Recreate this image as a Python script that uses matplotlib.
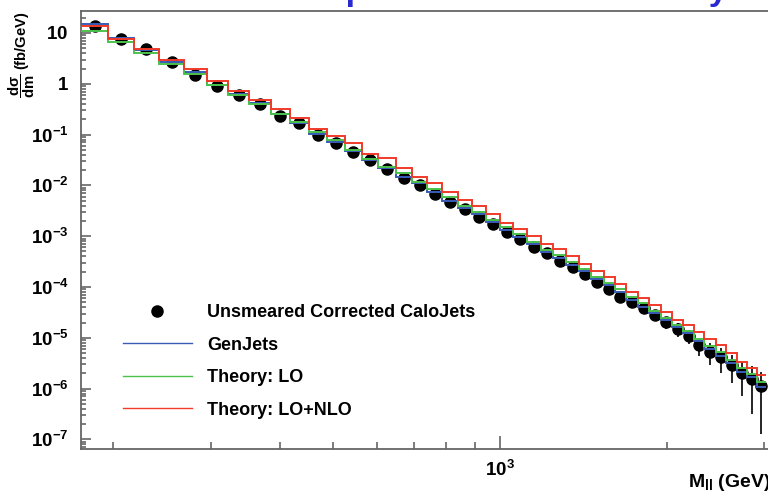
import numpy as np
import matplotlib
matplotlib.use("Agg")
import matplotlib.pyplot as plt
from matplotlib.lines import Line2D
from matplotlib.ticker import FixedLocator, FixedFormatter, NullFormatter, LogLocator

plt.rcParams["font.family"] = ["Liberation Sans", "DejaVu Sans"]
plt.rcParams["mathtext.fontset"] = "custom"
plt.rcParams["mathtext.rm"] = "Liberation Sans:bold"
plt.rcParams["mathtext.bf"] = "Liberation Sans:bold"
plt.rcParams["mathtext.it"] = "Liberation Sans:bold"

# bin edges of the mass histogram (GeV)
edges = [175, 196, 218, 242, 269, 295, 323, 352, 385, 417, 451, 486, 525, 563,
         603, 649, 693, 739, 787, 840, 889, 942, 1000, 1057, 1120, 1184, 1246,
         1317, 1388, 1460, 1539, 1611, 1689, 1775, 1861, 1950, 2044, 2143, 2243,
         2341, 2453, 2564, 2677, 2790, 2908, 3028]

# Unsmeared Corrected CaloJets (fb/GeV)
calojets = [13.9, 7.72, 4.78, 2.65, 1.49, 0.905, 0.610, 0.400, 0.2355, 0.1669,
            0.0982, 0.0693, 0.0461, 0.0312, 0.0210, 0.0138, 0.01005, 6.77e-3,
            4.78e-3, 3.38e-3, 2.42e-3, 1.715e-3, 1.226e-3, 8.69e-4, 6.21e-4,
            4.61e-4, 3.29e-4, 2.51e-4, 1.78e-4, 1.226e-4, 9.01e-5, 6.44e-5,
            5.07e-5, 3.81e-5, 2.81e-5, 2.07e-5, 1.49e-5, 1.10e-5, 7.22e-6,
            5.33e-6, 4.13e-6, 2.91e-6, 2.06e-6, 1.52e-6, 1.12e-6]
calojets_err = [0.14, 0.08, 0.05, 0.03, 0.02, 0.012, 0.009, 0.006, 0.004, 0.003,
                0.002, 0.0015, 0.0011, 8e-4, 6e-4, 4.5e-4, 3.5e-4, 2.6e-4, 2e-4,
                1.5e-4, 1.2e-4, 9e-5, 7e-5, 5.5e-5, 4.2e-5, 3.4e-5, 2.7e-5,
                2.2e-5, 1.7e-5, 1.3e-5, 1.1e-5, 9e-6, 8e-6, 7e-6, 6e-6, 5.5e-6,
                4.5e-6, 3.4e-6, 2.8e-6, 2.4e-6, 2.1e-6, 1.6e-6, 1.35e-6,
                1.21e-6, 9.9e-7]

genjets = [15.0, 8.08, 4.57, 2.72, 1.67, 0.926, 0.630, 0.4095, 0.2544, 0.1692,
           0.1027, 0.0715, 0.04755, 0.0316, 0.0220, 0.01483, 0.0110, 7.52e-3,
           4.93e-3, 3.54e-3, 2.70e-3, 1.93e-3, 1.324e-3, 9.78e-4, 7.02e-4,
           4.95e-4, 3.67e-4, 2.71e-4, 2.065e-4, 1.418e-4, 1.095e-4, 8.08e-5,
           5.55e-5, 3.98e-5, 3.04e-5, 2.24e-5, 1.61e-5, 1.226e-5, 8.77e-6,
           6.02e-6, 4.38e-6, 3.15e-6, 2.15e-6, 1.67e-6, 1.09e-6]

theory_lo = [10.8, 6.74, 4.10, 2.45, 1.54, 0.947, 0.602, 0.400, 0.2487, 0.1794,
             0.1125, 0.0783, 0.0498, 0.0326, 0.02334, 0.01730, 0.01182, 8.38e-3,
             5.99e-3, 3.93e-3, 2.955e-3, 2.084e-3, 1.497e-3, 1.09e-3, 7.79e-4,
             5.35e-4, 4.26e-4, 3.15e-4, 2.23e-4, 1.595e-4, 1.215e-4, 9.01e-5,
             6.27e-5, 4.78e-5, 3.37e-5, 2.42e-5, 1.786e-5, 1.36e-5, 9.47e-6,
             6.90e-6, 5.33e-6, 3.66e-6, 2.51e-6, 1.94e-6, 1.32e-6]

theory_lo_nlo = [13.9, 7.72, 4.91, 2.94, 1.93, 1.16, 0.731, 0.480, 0.315, 0.215,
                 0.127, 0.0926, 0.0674, 0.0409, 0.0346, 0.0217, 0.01483, 0.0110,
                 7.52e-3, 5.09e-3, 3.88e-3, 2.70e-3, 1.795e-3, 1.386e-3,
                 1.009e-3, 7.02e-4, 5.52e-4, 4.13e-4, 2.84e-4, 2.065e-4,
                 1.552e-4, 1.13e-4, 8.08e-5, 6.16e-5, 4.36e-5, 3.26e-5,
                 2.24e-5, 1.786e-5, 1.30e-5, 9.34e-6, 7.22e-6, 4.95e-6,
                 3.38e-6, 2.51e-6, 1.85e-6]

x_major = [1000]
x_major_labels = [r"$\mathbf{10^{3}}$"]
x_minor = [200, 300, 400, 500, 600, 700, 800, 900, 2000, 3000]
y_major = [1e1, 1e0, 1e-1, 1e-2, 1e-3, 1e-4, 1e-5, 1e-6, 1e-7]
y_major_labels = [r"$\mathbf{10}$", r"$\mathbf{1}$", r"$\mathbf{10^{-1}}$",
                  r"$\mathbf{10^{-2}}$", r"$\mathbf{10^{-3}}$", r"$\mathbf{10^{-4}}$",
                  r"$\mathbf{10^{-5}}$", r"$\mathbf{10^{-6}}$", r"$\mathbf{10^{-7}}$"]

BLUE = "#3a5cb8"
GREEN = "#4cc24c"
RED = "#f03a2a"
FRAME = "#666666"

edges_a = np.array(edges, dtype=float)
centers = np.sqrt(edges_a[:-1] * edges_a[1:])

fig = plt.figure(figsize=(7.68, 4.94), dpi=100)
ax = fig.add_axes([81 / 768, 1 - 449 / 494, 1 - 81 / 768 + 0.01, 438 / 494])

ax.errorbar(centers, calojets, yerr=calojets_err, fmt="o", color="black",
            ms=8, elinewidth=1.2, capsize=0, zorder=3)
ax.stairs(genjets, edges_a, baseline=None, color=BLUE, lw=1.4, zorder=4)
ax.stairs(theory_lo, edges_a, baseline=None, color=GREEN, lw=1.4, zorder=4)
ax.stairs(theory_lo_nlo, edges_a, baseline=None, color=RED, lw=1.4, zorder=4)

ax.set_xscale("log")
ax.set_yscale("log")
ax.set_xlim(175, 3027 * 1.04)
ax.set_ylim(6.47e-8, 27.1)

ax.xaxis.set_major_locator(FixedLocator(x_major))
ax.xaxis.set_major_formatter(FixedFormatter(x_major_labels))
ax.xaxis.set_minor_locator(FixedLocator(x_minor))
ax.xaxis.set_minor_formatter(NullFormatter())
ax.yaxis.set_major_locator(FixedLocator(y_major))
ax.yaxis.set_major_formatter(FixedFormatter(y_major_labels))
ax.yaxis.set_minor_locator(LogLocator(base=10, subs=np.arange(2, 10)))
ax.yaxis.set_minor_formatter(NullFormatter())

ax.tick_params(which="both", direction="in", color=FRAME, width=1.2,
               labelsize=13.5, top=False, right=False)
ax.tick_params(axis="y", which="major", length=7.5, pad=9)
ax.tick_params(axis="y", which="minor", length=3.8)
ax.tick_params(axis="x", which="major", length=9.5, pad=7.5)
ax.tick_params(axis="x", which="minor", length=5)

for side in ["left", "bottom", "top"]:
    ax.spines[side].set_color(FRAME)
    ax.spines[side].set_linewidth(1.3)
ax.spines["right"].set_visible(False)

ax.set_ylabel(r"$\mathbf{\dfrac{d\sigma}{dm}}$ (fb/GeV)", fontsize=10.6,
              fontweight="bold")
ax.yaxis.set_label_coords(-0.064, 0.9)

fig.text(771 / 768, 1 - 482 / 494, r"$\mathbf{M_{ll}}$ (GeV)", ha="right",
         va="center", fontsize=14, fontweight="bold")

fig.text(0.6232, 1.0, "Mass Spectrum and Sensitivity", color="#2a2ad0",
         fontsize=24.4, fontweight="bold", ha="center", va="baseline")

handles = [
    Line2D([], [], marker="o", color="black", ls="none", ms=8),
    Line2D([], [], color=BLUE, lw=1.0),
    Line2D([], [], color=GREEN, lw=1.0),
    Line2D([], [], color=RED, lw=1.0),
]
labels = ["Unsmeared Corrected CaloJets", "GenJets", "Theory: LO", "Theory: LO+NLO"]
fig.legend(handles, labels, loc="upper left", bbox_to_anchor=(123 / 768, 1 - 304 / 494),
           frameon=False, prop={"weight": "bold", "size": 13},
           handlelength=3.82, handletextpad=0.83, labelspacing=0.86,
           borderpad=0, borderaxespad=0)

fig.savefig("out.png", dpi=100)
